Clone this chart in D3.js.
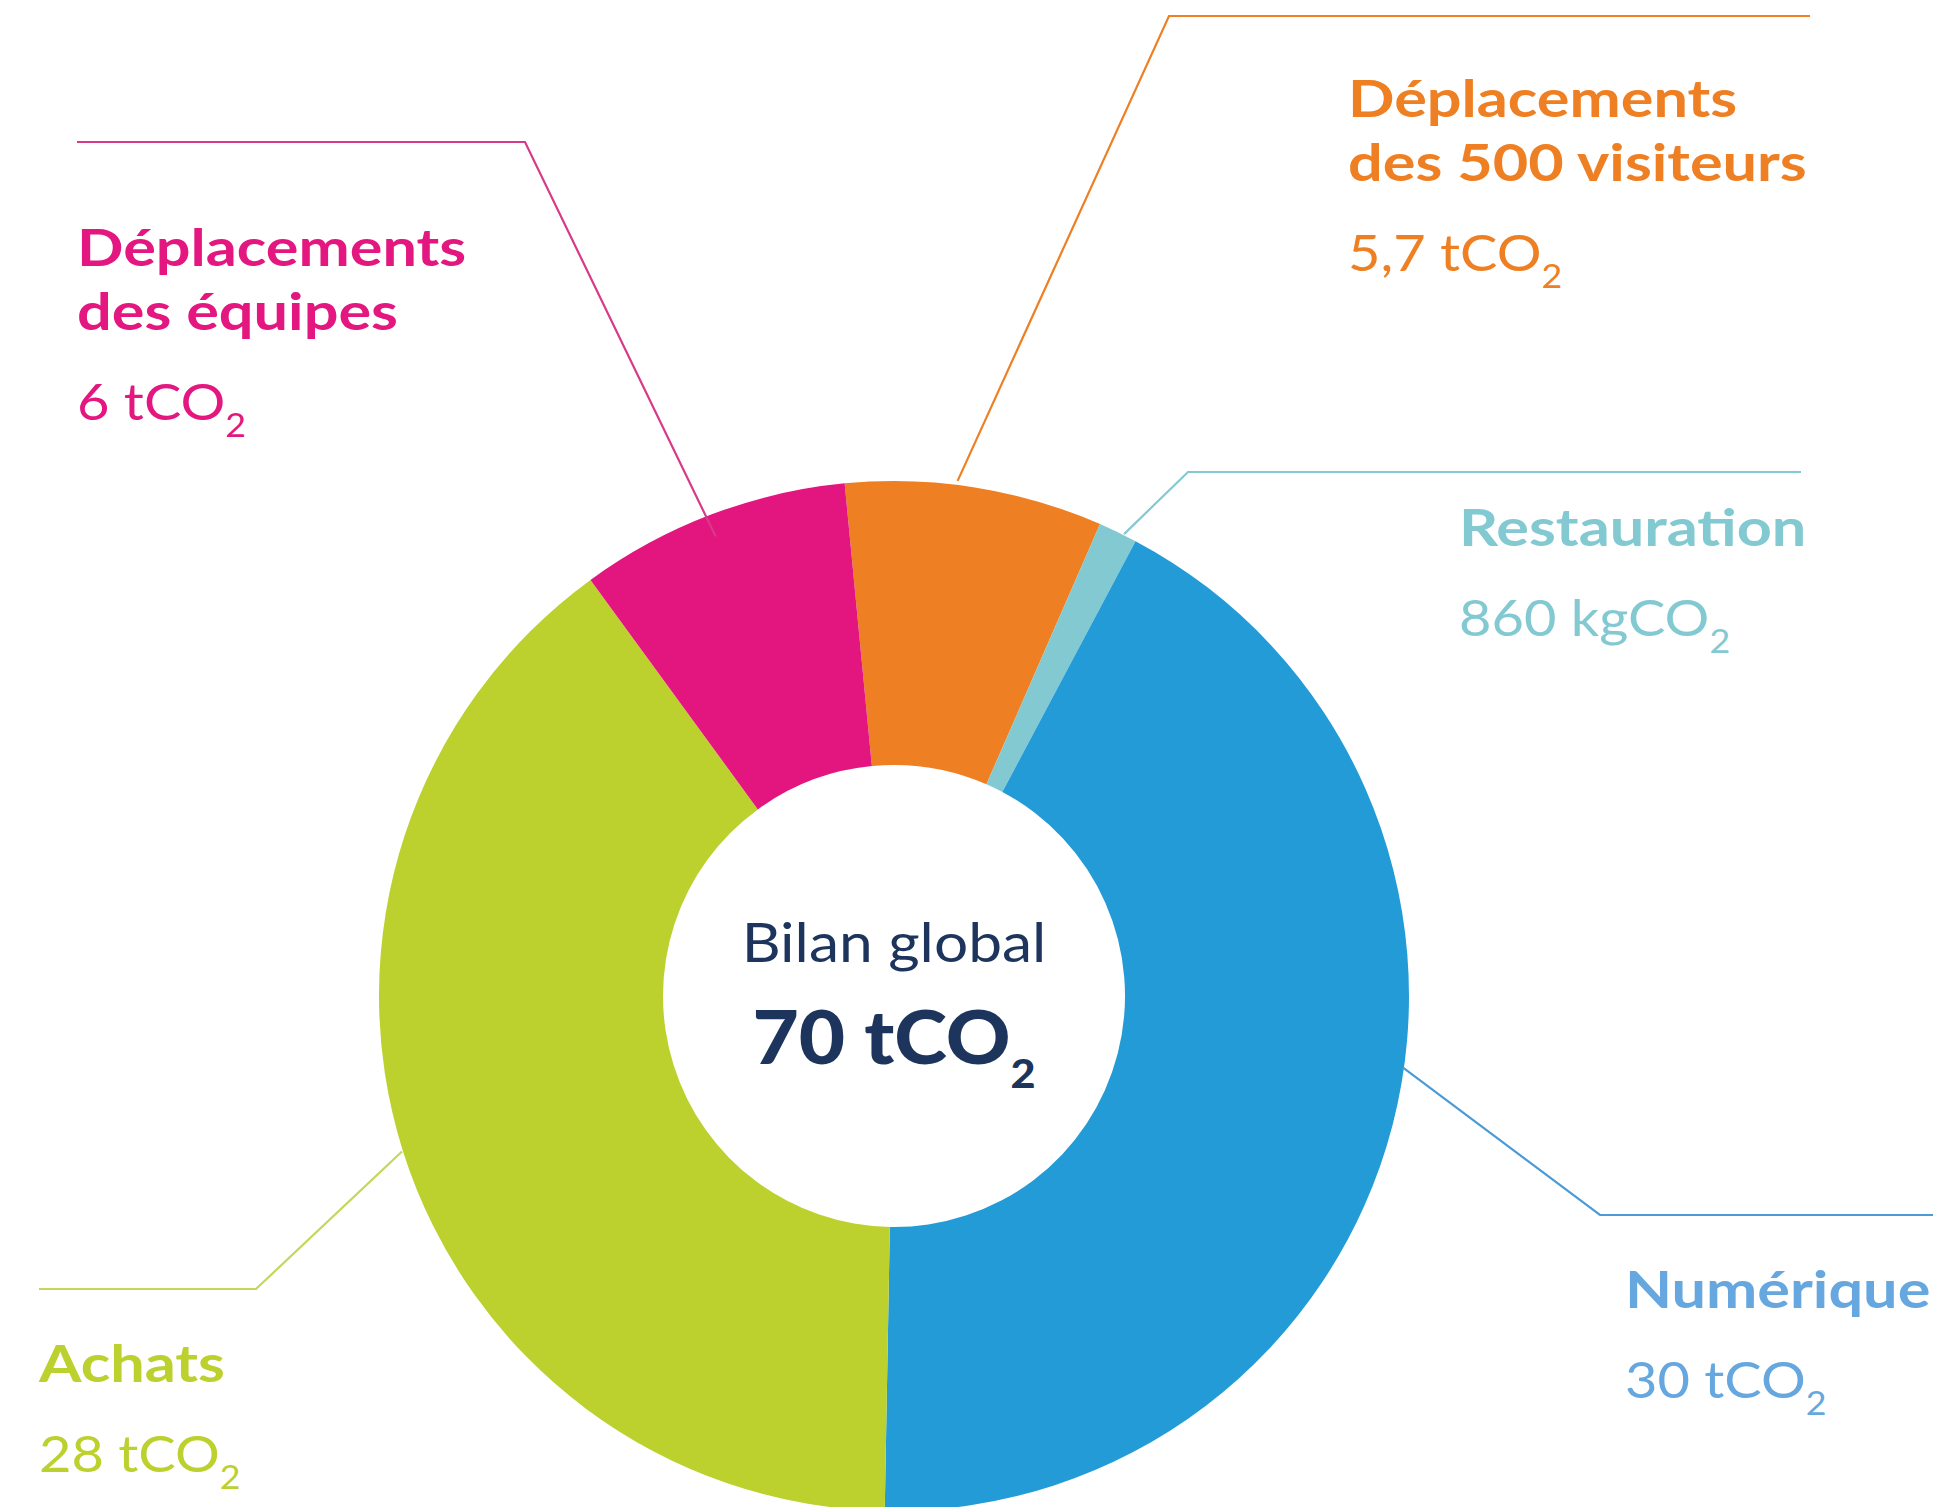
<!DOCTYPE html>
<html>
<head>
<meta charset="utf-8">
<script src="https://cdn.jsdelivr.net/npm/d3@7"></script>
<style>
  body { margin: 0; background: #fff; }
  svg { display: block; font-family: Lato, "Open Sans", sans-serif; }
</style>
</head>
<body>
<svg id="chart"></svg>
<script>
// data
const categories = ["Déplacements des 500 visiteurs", "Restauration", "Numérique", "Achats", "Déplacements des équipes"];
const values = [5.7, 0.86, 30, 28, 6];
const valueLabels = ["5,7 tCO", "860 kgCO", "30 tCO", "28 tCO", "6 tCO"];
const titleLines = [["Déplacements", "des 500 visiteurs"], ["Restauration"], ["Numérique"], ["Achats"], ["Déplacements", "des équipes"]];
const centerTitle = "Bilan global";
const centerValue = "70 tCO";

const sliceColors = ["#ee7f22", "#83c9d2", "#229bd7", "#bcd12e", "#e3167f"];
const textColors = ["#ee7f22", "#83c9d2", "#65a7de", "#bcd12e", "#e3177f"];
const lineColors = ["#ee7f22", "#83c9d2", "#4b9bd8", "#c3d75a", "#d83a88"];

const svgWidth = 1955, svgHeight = 1507;
const cx = 894, cy = 996;
const outerR = 515, innerR = 231;

// label layout: anchor angle offset (deg), anchor radius, knee, line end, text x, first baseline
const layout = [
  { off: -2, r: 519, knee: [1169, 16], end: [1810, 16], tx: 1348, ty: 117 },
  { off: 0.7, r: 516, knee: [1188, 472], end: [1801, 472], tx: 1459, ty: 546 },
  { off: -6.5, r: 514, knee: [1600, 1215], end: [1933, 1215], tx: 1625, ty: 1308 },
  { off: 0, r: 516, knee: [256, 1289], end: [39, 1289], tx: 39, ty: 1382 },
  { off: -0.4, r: 493, knee: [525, 142], end: [77, 142], tx: 77, ty: 266 }
];

// the original face is wider than Lato, so text is stretched horizontally
const stretchTitle = 1.2, stretchValue = 1.12, stretchCenter = 1.12, stretchTotal = 1.08;

const svg = d3.select("#chart")
    .attr("width", svgWidth)
    .attr("height", svgHeight);

svg.append("rect").attr("width", svgWidth).attr("height", svgHeight).attr("fill", "#fff");

const start = -5.5 * Math.PI / 180;
const pie = d3.pie().sort(null).value(d => d).startAngle(start).endAngle(start + 2 * Math.PI);
const arcs = pie(values);

const arc = d3.arc().innerRadius(innerR).outerRadius(outerR);

const g = svg.append("g").attr("transform", `translate(${cx},${cy})`);

g.selectAll("path.slice")
    .data(arcs)
    .enter().append("path")
    .attr("class", "slice")
    .attr("d", arc)
    .attr("fill", (d, i) => sliceColors[i]);

// leader lines
arcs.forEach((d, i) => {
    const L = layout[i];
    const a = (d.startAngle + d.endAngle) / 2 + L.off * Math.PI / 180;
    const p0 = [cx + L.r * Math.sin(a), cy - L.r * Math.cos(a)];
    svg.append("path")
        .attr("d", d3.line()([p0, L.knee, L.end]))
        .attr("fill", "none")
        .attr("stroke", lineColors[i])
        .attr("stroke-width", 2.2);
});

function placeText(x, y, s) {
    return svg.append("text")
        .attr("transform", `translate(${x},${y}) scale(${s},1)`);
}

// labels
const lineGap = 64, valueGap = 90;
arcs.forEach((d, i) => {
    const L = layout[i];
    const lines = titleLines[i];
    lines.forEach((t, k) => {
        placeText(L.tx, L.ty + k * lineGap, stretchTitle)
            .attr("fill", textColors[i])
            .attr("font-size", 51)
            .attr("font-weight", 700)
            .text(t);
    });
    const vy = L.ty + (lines.length - 1) * lineGap + valueGap;
    const vt = placeText(L.tx, vy, stretchValue)
        .attr("fill", textColors[i])
        .attr("font-size", 50)
        .attr("font-weight", 400);
    vt.append("tspan").text(valueLabels[i]);
    vt.append("tspan").attr("font-size", 32).attr("dy", 17).text("2");
});

// center text
placeText(cx, 962, stretchCenter)
    .attr("text-anchor", "middle")
    .attr("fill", "#1d355d")
    .attr("font-size", 54)
    .attr("font-weight", 400)
    .text(centerTitle);

const ct = placeText(cx, 1064, stretchTotal)
    .attr("text-anchor", "middle")
    .attr("fill", "#1d355d")
    .attr("font-size", 74)
    .attr("font-weight", 900);
ct.append("tspan").text(centerValue);
ct.append("tspan").attr("font-size", 40).attr("dy", 24).text("2");
</script>
</body>
</html>
